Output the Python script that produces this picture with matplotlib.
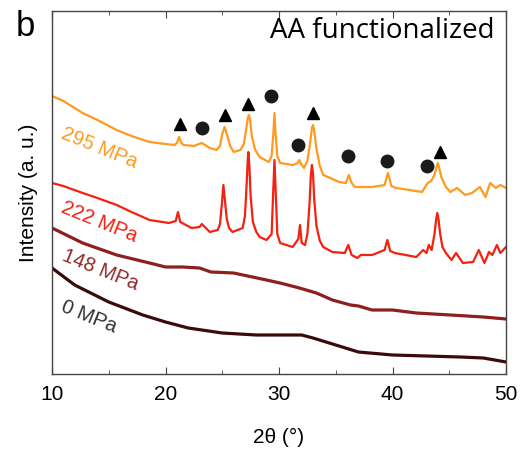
import matplotlib
matplotlib.use("Agg")
import matplotlib.pyplot as plt

# ---- data (2theta in degrees, intensity in arbitrary units, offset stacked) ----
x_295 = [10, 11, 12.7, 14, 15.7, 17, 18.6, 20, 20.8, 21.0, 21.2, 21.4, 21.6, 22.5, 23.2, 23.9, 24.5,
         24.8, 25.0, 25.2, 25.4, 25.7, 26.0, 26.6, 26.9, 27.1, 27.25, 27.35, 27.45, 27.6, 27.9, 28.3,
         29.1, 29.35, 29.5, 29.6, 29.7, 29.85, 30.1, 31.2, 31.65, 31.8, 31.95, 32.2, 32.5, 32.75, 32.9,
         33.0, 33.1, 33.3, 33.6, 33.9, 35.3, 35.9, 36.15, 36.4, 36.7, 37.2, 38.2, 39.3, 39.6, 39.9, 40.3,
         41.5, 42.6, 43.1, 43.4, 43.7, 43.9, 44.0, 44.1, 44.3, 44.7, 45.1, 45.7, 46.4, 47.0, 47.7, 48.2,
         48.6, 49.1, 49.5, 50.0]
y_295 = [278, 273, 261, 254, 244, 238, 232, 230, 229, 231, 237, 231, 229, 228, 231, 226, 224,
         228, 240, 247, 240, 228, 222, 224, 230, 244, 256, 259, 254, 238, 224, 217,
         212, 218, 240, 261, 240, 218, 211, 209, 211, 214, 210, 206, 213, 232, 246,
         249, 243, 225, 208, 199, 192, 191, 199, 191, 187, 187, 187, 189, 201, 188, 186,
         184, 182, 191, 193, 199, 208, 211, 207, 197, 187, 182, 186, 179, 181, 187, 177,
         191, 186, 189, 186]

x_222 = [10, 11, 12.7, 14, 15.7, 17, 18.6, 20.3, 20.9, 21.1, 21.3, 22.3, 23.0, 23.2, 23.9, 24.6,
         24.8, 24.95, 25.1, 25.25, 25.4, 25.6, 25.9, 26.8, 27.0, 27.15, 27.25, 27.3, 27.4, 27.5, 27.7,
         28.0, 28.3, 28.9, 29.35, 29.5, 29.6, 29.7, 29.85, 30.1, 31.2, 31.7, 31.85, 32.0, 32.3, 32.5,
         32.7, 32.8, 32.9, 33.0, 33.1, 33.3, 33.6, 33.9, 34.7, 35.8, 36.1, 36.4, 36.9, 37.2, 38.2,
         39.3, 39.55, 39.8, 40.2, 42.1, 42.7, 43.0, 43.2, 43.45, 43.7, 43.85, 43.95, 44.05, 44.2,
         44.4, 44.7, 45.2, 45.6, 46.2, 47.1, 47.6, 48.1, 48.5, 48.8, 49.2, 49.5, 50]
y_222 = [191, 188, 181, 176, 169, 162, 154, 151, 153, 162, 152, 146, 147, 150, 142, 144,
         150, 168, 189, 172, 155, 146, 142, 146, 158, 190, 215, 222, 206, 178, 152,
         142, 137, 134, 140, 185, 214, 185, 140, 131, 127, 135, 149, 131, 129, 140,
         172, 198, 209, 200, 175, 148, 133, 127, 122, 121, 129, 119, 116, 119, 119,
         124, 134, 123, 121, 117, 124, 121, 129, 124, 140, 155, 161, 155, 140,
         127, 121, 114, 121, 111, 112, 124, 111, 122, 119, 129, 121, 127]

x_148 = [10, 12.7, 15.7, 18.6, 20, 21.5, 23, 24, 26, 28.9, 30.1, 31.8, 33.3, 34.7, 36.3, 37, 38.2,
         40, 42.1, 45.1, 48, 50]
y_148 = [146, 131, 119, 111, 107, 107, 106, 102, 101, 94, 91, 86, 81, 74, 69, 68, 64,
         64, 61, 59, 57, 55]

x_0 = [10, 12, 15, 18, 20, 22, 25, 28, 30, 32, 33, 35, 37, 40, 43, 46, 48, 50]
y_0 = [106, 89, 72, 59, 52, 46, 41, 39, 39, 39, 36, 29, 22, 19, 18, 17, 16, 12]

tri_x = [21.3, 25.2, 27.3, 33.0, 44.2]
tri_y = [250, 259, 270, 261, 222]
circ_x = [23.2, 29.3, 31.7, 36.1, 39.5, 43.0]
circ_y = [246, 278, 229, 218, 213, 208]

labels = ["295 MPa", "222 MPa", "148 MPa", "0 MPa"]
colors = ["#ff9a1f", "#f42010", "#8e1f1f", "#3b0a0a"]
label_colors = ["#ff9a1f", "#f42010", "#8e2a2a", "#333333"]
label_pos = [(14.2, 226), (14.2, 152), (14.3, 104), (13.3, 57)]

# ---- figure ----
fig = plt.figure(figsize=(5.2, 4.5), dpi=100)
ax = fig.add_axes([52/520, 1-374/450, (506-52)/520, (374-11)/450])

series = [(x_295, y_295), (x_222, y_222), (x_148, y_148), (x_0, y_0)]
widths = [1.6, 1.6, 2.3, 2.3]
for (xs, ys), c, lw in zip(series, colors, widths):
    ax.plot(xs, ys, color=c, lw=lw, solid_joinstyle="round")

ax.plot(tri_x, tri_y, linestyle="none", marker="^", color="black", ms=8)
ax.plot(circ_x, circ_y, linestyle="none", marker="o", color="#1a1a1a", ms=9)

for lab, c, (lx, ly) in zip(labels, label_colors, label_pos):
    ax.text(lx, ly, lab, color=c, rotation=-22, ha="center", va="center",
            fontsize=14.5, family="Liberation Sans", rotation_mode="anchor")

ax.set_xlim(10, 50)
ax.set_ylim(0, 363)
ax.set_xticks([10, 20, 30, 40, 50])
ax.set_xticks([15, 25, 35, 45], minor=True)
ax.set_yticks([])
ax.tick_params(axis="x", which="both", direction="in", top=True, bottom=True,
               labelsize=15, color="#444444", pad=8)
ax.tick_params(axis="x", which="major", length=5)
ax.tick_params(axis="x", which="minor", length=3)
for lbl in ax.get_xticklabels():
    lbl.set_family("Liberation Sans")
for s in ax.spines.values():
    s.set_color("#444444")
    s.set_linewidth(1.0)

ax.set_xlabel("2θ (°)", fontsize=15, family="Liberation Sans", labelpad=17)
ax.set_ylabel("Intensity (a. u.)", fontsize=15, family="Liberation Sans", labelpad=10)

fig.text(16/520, 1-27/450, "b", fontsize=25, family="Liberation Sans", va="center", ha="left")
ax.text(0.975, 0.945, "AA functionalized", transform=ax.transAxes, ha="right", va="center",
        fontsize=20, family="Open Sans")

fig.savefig("out.png", dpi=100)
